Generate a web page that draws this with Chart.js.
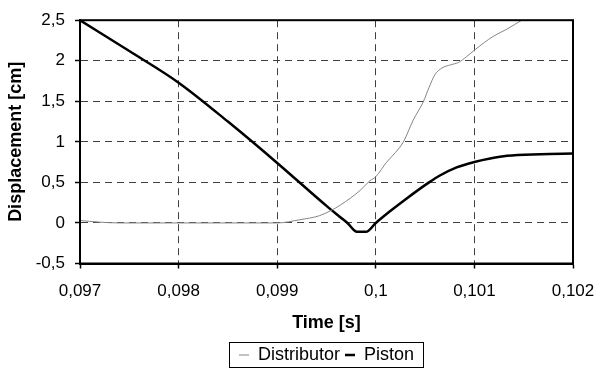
<!DOCTYPE html>
<html>
<head>
<meta charset="utf-8">
<script src="https://cdn.jsdelivr.net/npm/chart.js@4"></script>
<style>
  html, body { margin: 0; padding: 0; background: #fff; }
  #wrap { width: 597px; height: 369px; }
</style>
</head>
<body>
<div id="wrap"><canvas id="chart"></canvas></div>
<script>
'use strict';

// 시간축 (s) / 변위 (cm)
const distTime = [0.097, 0.0972, 0.0974, 0.098, 0.0985, 0.099, 0.09923, 0.09943, 0.09954,
    0.09964, 0.09984, 0.09994, 0.1, 0.10011, 0.1002, 0.10028, 0.10038, 0.10048, 0.10054,
    0.1006, 0.10067, 0.10076, 0.10084, 0.10092, 0.10101, 0.10119, 0.10133, 0.10148];
const distValue = [0.03, 0.01, 0, 0, 0, 0, 0.04, 0.09, 0.15,
    0.22, 0.4, 0.52, 0.57, 0.75, 0.87, 1.0, 1.27, 1.49, 1.67,
    1.83, 1.91, 1.95, 1.98, 2.05, 2.14, 2.3, 2.39, 2.5];

const pistonTime = [0.097, 0.0975, 0.098, 0.0985, 0.099, 0.0995, 0.09964, 0.09972,
    0.09978, 0.09981, 0.0999, 0.1, 0.10015, 0.1003, 0.10054, 0.10065, 0.10082,
    0.10101, 0.10116, 0.10133, 0.10167, 0.102];
const pistonValue = [2.5, 2.12, 1.73, 1.25, 0.74, 0.21, 0.07, -0.01,
    -0.09, -0.11, -0.11, 0, 0.15, 0.29, 0.5, 0.585, 0.685,
    0.755, 0.795, 0.828, 0.847, 0.855];

const xTicks = [0.097, 0.098, 0.099, 0.1, 0.101, 0.102];
const yTicks = [-0.5, 0, 0.5, 1, 1.5, 2, 2.5];

// x, y 쌍으로 묶기
function toPoints(xs, ys) {
    return xs.map((x, i) => ({ x: x, y: ys[i] }));
}

// 소수점 쉼표 표기
function comma(v) {
    return String(parseFloat(v.toFixed(4))).replace('.', ',');
}

// 그림 영역 테두리 + 범례 테두리
const framePlugin = {
    id: 'frame',
    afterDraw(chart) {
        const ctx = chart.ctx;
        const a = chart.chartArea;
        ctx.save();
        ctx.strokeStyle = '#000';
        ctx.lineWidth = 2;
        ctx.strokeRect(a.left, a.top, a.right - a.left, a.bottom - a.top);

        const boxes = chart.legend.legendHitBoxes;
        if (boxes && boxes.length) {
            let l = Infinity, r = -Infinity, t = Infinity, b = -Infinity;
            boxes.forEach(h => {
                l = Math.min(l, h.left);
                r = Math.max(r, h.left + h.width);
                t = Math.min(t, h.top);
                b = Math.max(b, h.top + h.height);
            });
            ctx.lineWidth = 1;
            ctx.strokeRect(Math.round(l) - 9.5, Math.round(t) - 3.5, Math.round(r - l) + 19, Math.round(b - t) + 7);
        }
        ctx.restore();
    }
};

const data = {
    datasets: [{
        label: 'Distributor',
        data: toPoints(distTime, distValue),
        borderColor: '#858585',
        backgroundColor: '#858585',
        borderWidth: 1,
        pointRadius: 0,
        cubicInterpolationMode: 'monotone'
    }, {
        label: 'Piston',
        data: toPoints(pistonTime, pistonValue),
        borderColor: '#000',
        backgroundColor: '#000',
        borderWidth: 2.5,
        pointRadius: 0,
        cubicInterpolationMode: 'monotone'
    }]
};

const gridOpts = {
    color: '#404040',
    lineWidth: 1,
    tickColor: '#000',
    tickLength: 5,
    tickBorderDash: [],
    tickWidth: 1.5
};

const config = {
    type: 'line',
    data,
    options: {
        responsive: false,
        animation: false,
        layout: { padding: { left: 0, right: 24, top: 15, bottom: -5 } },
        scales: {
            x: {
                type: 'linear',
                min: 0.097,
                max: 0.102,
                afterBuildTicks: s => { s.ticks = xTicks.map(v => ({ value: v })); },
                afterFit: s => {
                    s.height = 77.5;
                    s.paddingLeft = 0;
                    s.paddingRight = 0;
                },
                ticks: {
                    color: '#000',
                    font: { family: 'Liberation Sans', size: 17 },
                    padding: 13,
                    maxRotation: 0,
                    callback: v => comma(v)
                },
                grid: gridOpts,
                border: { display: true, color: '#000', width: 2, dash: [7, 5] },
                title: {
                    display: true,
                    text: 'Time [s]',
                    color: '#000',
                    font: { family: 'Liberation Sans', size: 18, weight: 'bold' },
                    padding: { top: 4, bottom: 7 }
                }
            },
            y: {
                min: -0.5,
                max: 2.5,
                afterBuildTicks: s => { s.ticks = yTicks.map(v => ({ value: v })); },
                afterFit: s => { s.width = 80; },
                ticks: {
                    color: '#000',
                    font: { family: 'Liberation Sans', size: 17 },
                    padding: 10,
                    callback: v => comma(v)
                },
                grid: gridOpts,
                border: { display: true, color: '#000', width: 2, dash: [7, 5] },
                title: {
                    display: true,
                    text: 'Displacement [cm]',
                    color: '#000',
                    font: { family: 'Liberation Sans', size: 18, weight: 'bold' },
                    padding: { top: 5, bottom: 4 }
                }
            }
        },
        plugins: {
            legend: {
                position: 'bottom',
                fullSize: false,
                labels: {
                    color: '#000',
                    font: { family: 'Liberation Sans', size: 18 },
                    usePointStyle: true,
                    pointStyle: 'line',
                    pointStyleWidth: 10,
                    boxHeight: 18,
                    padding: 5
                }
            },
            tooltip: { enabled: false }
        }
    },
    plugins: [framePlugin]
};

const canvas = document.getElementById('chart');
canvas.width = 597;
canvas.height = 369;
new Chart(canvas, config);
</script>
</body>
</html>
